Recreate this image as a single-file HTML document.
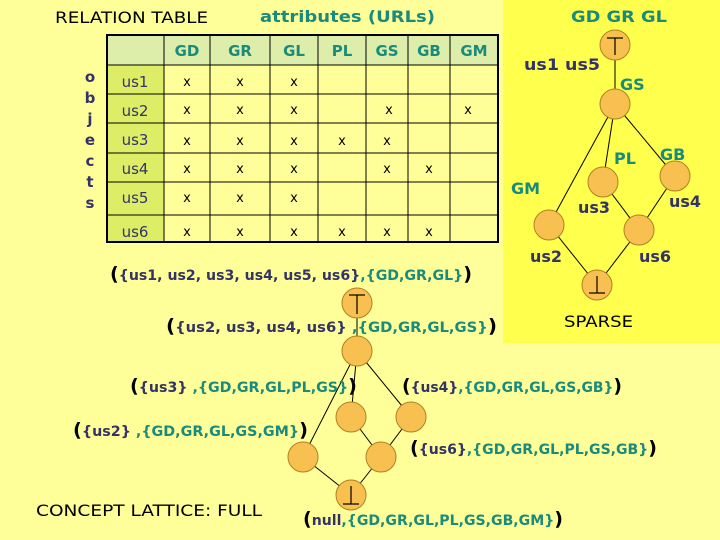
<!DOCTYPE html>
<html><head><style>
body{margin:0;width:720px;height:540px;overflow:hidden;background:#FFFF99;font-family:"DejaVu Sans",sans-serif;position:relative}
.a{position:absolute;white-space:nowrap}
</style></head><body>
<div class="a" style="left:503px;top:0;width:217px;height:343px;background:#FFFF4D"></div>
<svg class="a" style="left:0;top:0" width="720" height="540" font-family="DejaVu Sans">
<rect x="107" y="35" width="391" height="207" fill="#FFFF99"/>
<rect x="108" y="36" width="389" height="29" fill="#DDEEAA"/>
<rect x="108" y="65" width="56" height="177" fill="#DDEE66"/>
<g stroke="#000" stroke-width="1">
<line x1="164" y1="35" x2="164" y2="242"/><line x1="210" y1="35" x2="210" y2="242"/><line x1="270" y1="35" x2="270" y2="242"/><line x1="318" y1="35" x2="318" y2="242"/><line x1="366" y1="35" x2="366" y2="242"/><line x1="408" y1="35" x2="408" y2="242"/><line x1="450" y1="35" x2="450" y2="242"/>
<line x1="107" y1="65" x2="498" y2="65"/><line x1="107" y1="94" x2="498" y2="94"/><line x1="107" y1="123" x2="498" y2="123"/><line x1="107" y1="153" x2="498" y2="153"/><line x1="107" y1="182" x2="498" y2="182"/><line x1="107" y1="215" x2="498" y2="215"/>
</g>
<rect x="107" y="35" width="391" height="207" fill="none" stroke="#000" stroke-width="2"/>
<g font-weight="bold" font-size="15" fill="#1A8A7A" text-anchor="middle">
<text x="187" y="56">GD</text><text x="240" y="56">GR</text><text x="294" y="56">GL</text><text x="342" y="56">PL</text><text x="387" y="56">GS</text><text x="429" y="56">GB</text><text x="474" y="56">GM</text>
</g>
<g font-size="15" fill="#333366" text-anchor="middle">
<text x="135" y="87">us1</text><text x="135" y="116">us2</text><text x="135" y="145">us3</text><text x="135" y="174">us4</text><text x="135" y="203">us5</text><text x="135" y="237">us6</text>
</g>
<g font-weight="bold" font-size="15" fill="#333366" text-anchor="middle">
<text x="90" y="82">o</text><text x="90" y="103">b</text><text x="90" y="124">j</text><text x="90" y="145">e</text><text x="90" y="166">c</text><text x="90" y="187">t</text><text x="90" y="208">s</text>
</g>
<g font-size="13" fill="#000" text-anchor="middle">
<text x="187" y="86">x</text><text x="240" y="86">x</text><text x="294" y="86">x</text>
<text x="187" y="114">x</text><text x="240" y="114">x</text><text x="294" y="114">x</text><text x="389" y="114">x</text><text x="468" y="114">x</text>
<text x="187" y="145">x</text><text x="240" y="145">x</text><text x="294" y="145">x</text><text x="342" y="145">x</text><text x="387" y="145">x</text>
<text x="187" y="173">x</text><text x="240" y="173">x</text><text x="294" y="173">x</text><text x="387" y="173">x</text><text x="429" y="173">x</text>
<text x="187" y="202">x</text><text x="240" y="202">x</text><text x="294" y="202">x</text>
<text x="187" y="236">x</text><text x="240" y="236">x</text><text x="294" y="236">x</text><text x="342" y="236">x</text><text x="387" y="236">x</text><text x="429" y="236">x</text>
</g>
<text x="55" y="23" font-size="16" fill="#000" textLength="153" lengthAdjust="spacingAndGlyphs">RELATION TABLE</text>
<text x="260" y="22" font-size="16" font-weight="bold" fill="#1A8A7A" textLength="175" lengthAdjust="spacingAndGlyphs">attributes (URLs)</text>
<!-- right lattice -->
<g stroke="#000" stroke-width="1">
<line x1="615" y1="45" x2="615" y2="104"/><line x1="615" y1="104" x2="549" y2="225"/><line x1="615" y1="104" x2="603" y2="182"/><line x1="615" y1="104" x2="675" y2="176"/>
<line x1="603" y1="182" x2="639" y2="230"/><line x1="675" y1="176" x2="639" y2="230"/><line x1="549" y1="225" x2="597" y2="285"/><line x1="639" y1="230" x2="597" y2="285"/>
</g>
<g fill="#F8C050" stroke="#B08020" stroke-width="1">
<circle cx="615" cy="45" r="15"/><circle cx="615" cy="104" r="15"/><circle cx="603" cy="182" r="15"/><circle cx="675" cy="176" r="15"/><circle cx="549" cy="225" r="15"/><circle cx="639" cy="230" r="15"/><circle cx="597" cy="285" r="15"/>
</g>
<g stroke="#000" stroke-width="1.2">
<line x1="607" y1="38" x2="623" y2="38"/><line x1="615" y1="38" x2="615" y2="55"/>
<line x1="589" y1="293" x2="605" y2="293"/><line x1="597" y1="276" x2="597" y2="293"/>
</g>
<g font-weight="bold" font-size="16" fill="#1A8A7A">
<text x="571" y="22" textLength="96" lengthAdjust="spacingAndGlyphs">GD GR GL</text><text x="620" y="90">GS</text><text x="614" y="164">PL</text><text x="660" y="160">GB</text><text x="511" y="194">GM</text>
</g>
<g font-weight="bold" font-size="16" fill="#333366">
<text x="524" y="70" textLength="76" lengthAdjust="spacingAndGlyphs">us1 us5</text><text x="578" y="213">us3</text><text x="669" y="207">us4</text><text x="530" y="262">us2</text><text x="639" y="262">us6</text>
</g>
<text x="564" y="327" font-size="16" fill="#000" textLength="69" lengthAdjust="spacingAndGlyphs">SPARSE</text>
<!-- main lattice -->
<g stroke="#000" stroke-width="1">
<line x1="357" y1="303" x2="357" y2="351"/><line x1="357" y1="351" x2="303" y2="457"/><line x1="357" y1="351" x2="351" y2="417"/><line x1="357" y1="351" x2="411" y2="417"/>
<line x1="351" y1="417" x2="381" y2="457"/><line x1="411" y1="417" x2="381" y2="457"/><line x1="303" y1="457" x2="351" y2="495"/><line x1="381" y1="457" x2="351" y2="495"/>
</g>
<g fill="#F8C050" stroke="#B08020" stroke-width="1">
<circle cx="357" cy="303" r="15"/><circle cx="357" cy="351" r="15"/><circle cx="351" cy="417" r="15"/><circle cx="411" cy="417" r="15"/><circle cx="303" cy="457" r="15"/><circle cx="381" cy="457" r="15"/><circle cx="351" cy="495" r="15"/>
</g>
<g stroke="#000" stroke-width="1.2">
<line x1="349" y1="295" x2="365" y2="295"/><line x1="357" y1="295" x2="357" y2="314"/>
<line x1="343" y1="504" x2="359" y2="504"/><line x1="351" y1="486" x2="351" y2="504"/>
</g>
<g font-size="14" font-weight="bold">
<text x="110" y="280" textLength="362" lengthAdjust="spacingAndGlyphs"><tspan font-size="19" fill="#000">(</tspan><tspan fill="#333366">{us1, us2, us3, us4, us5, us6}</tspan><tspan fill="#1A8A7A">,{GD,GR,GL}</tspan><tspan font-size="19" fill="#000">)</tspan></text>
<text x="166" y="332" textLength="331" lengthAdjust="spacingAndGlyphs"><tspan font-size="19" fill="#000">(</tspan><tspan fill="#333366">{us2, us3, us4, us6}</tspan><tspan fill="#1A8A7A"> ,{GD,GR,GL,GS}</tspan><tspan font-size="19" fill="#000">)</tspan></text>
<text x="130" y="392" textLength="227" lengthAdjust="spacingAndGlyphs"><tspan font-size="19" fill="#000">(</tspan><tspan fill="#333366">{us3} </tspan><tspan fill="#1A8A7A">,{GD,GR,GL,PL,GS}</tspan><tspan font-size="19" fill="#000">)</tspan></text>
<text x="402" y="392" textLength="220" lengthAdjust="spacingAndGlyphs"><tspan font-size="19" fill="#000">(</tspan><tspan fill="#333366">{us4}</tspan><tspan fill="#1A8A7A">,{GD,GR,GL,GS,GB}</tspan><tspan font-size="19" fill="#000">)</tspan></text>
<text x="73" y="436" textLength="235" lengthAdjust="spacingAndGlyphs"><tspan font-size="19" fill="#000">(</tspan><tspan fill="#333366">{us2} </tspan><tspan fill="#1A8A7A">,{GD,GR,GL,GS,GM}</tspan><tspan font-size="19" fill="#000">)</tspan></text>
<text x="410" y="454" textLength="247" lengthAdjust="spacingAndGlyphs"><tspan font-size="19" fill="#000">(</tspan><tspan fill="#333366">{us6}</tspan><tspan fill="#1A8A7A">,{GD,GR,GL,PL,GS,GB}</tspan><tspan font-size="19" fill="#000">)</tspan></text>
<text x="303" y="525" textLength="260" lengthAdjust="spacingAndGlyphs"><tspan font-size="19" fill="#000">(</tspan><tspan fill="#333366">null</tspan><tspan fill="#1A8A7A">,{GD,GR,GL,PL,GS,GB,GM}</tspan><tspan font-size="19" fill="#000">)</tspan></text>
</g>
<text x="36" y="516" font-size="16" fill="#000" textLength="226" lengthAdjust="spacingAndGlyphs">CONCEPT LATTICE: FULL</text>
</svg>
</body></html>
